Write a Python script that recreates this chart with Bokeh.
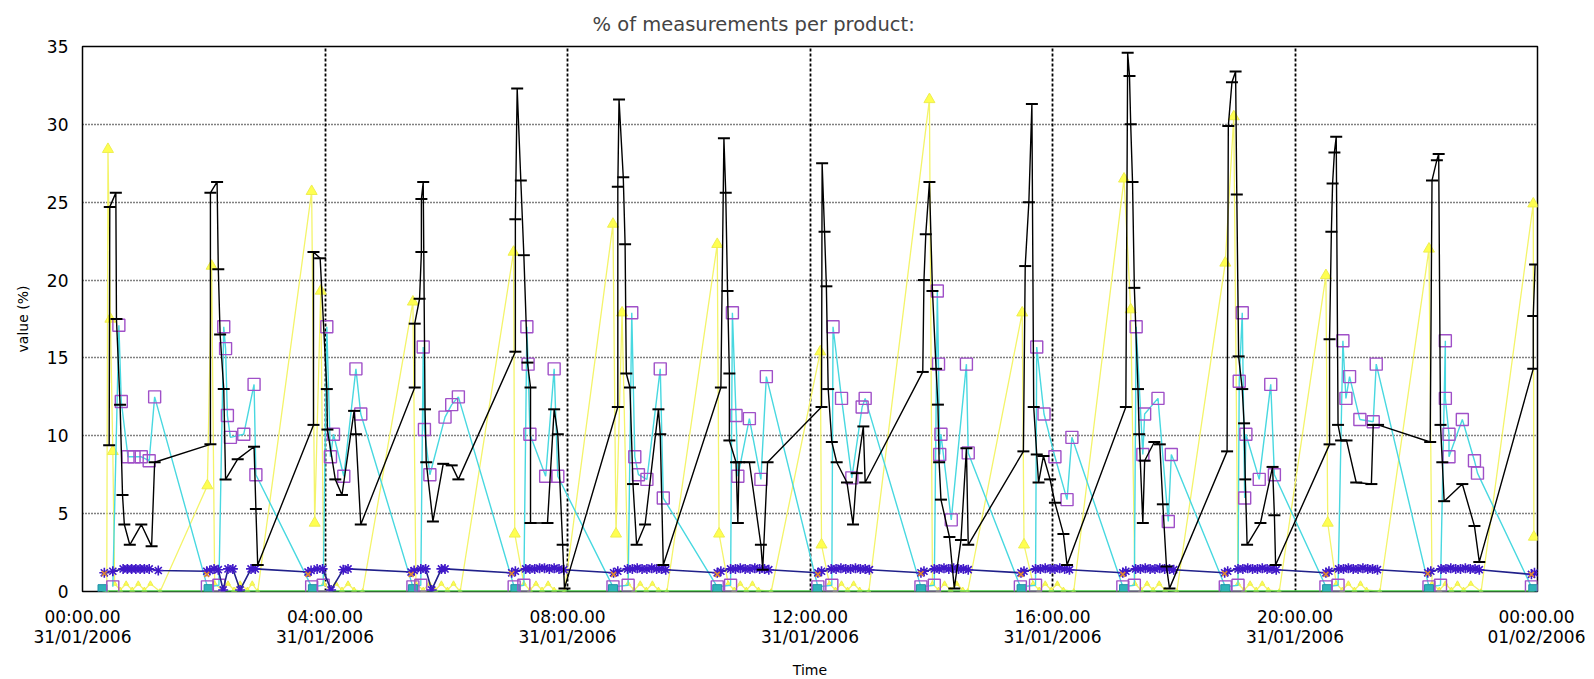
from bokeh.plotting import figure
from bokeh.models import FixedTicker, ColumnDataSource, Range1d
from bokeh.embed import file_html
from bokeh.resources import INLINE

# time axis: hours since 31/01/2006 00:00
x_tick_hours = [0, 4, 8, 12, 16, 20, 24]
x_tick_labels = ["00:00.00\n31/01/2006", "04:00.00\n31/01/2006", "08:00.00\n31/01/2006",
                 "12:00.00\n31/01/2006", "16:00.00\n31/01/2006", "20:00.00\n31/01/2006",
                 "00:00.00\n01/02/2006"]
y_ticks = [0, 5, 10, 15, 20, 25, 30, 35]

# black series (dash markers)
black_t = [0.44, 0.45, 0.55, 0.56, 0.62, 0.66, 0.69, 0.78, 0.97, 1.14, 1.19,
           2.11, 2.11, 2.22, 2.24, 2.27, 2.33, 2.36, 2.56, 2.83, 2.86, 2.89,
           3.81, 3.81, 3.92, 4.03, 4.04, 4.17, 4.28, 4.48, 4.51, 4.59,
           5.48, 5.48, 5.56, 5.59, 5.59, 5.62, 5.65, 5.67, 5.78, 5.95, 6.09, 6.20,
           7.14, 7.14, 7.17, 7.23, 7.28, 7.34, 7.39, 7.39, 7.67, 7.78, 7.84, 7.92, 7.95,
           8.83, 8.83, 8.85, 8.92, 8.95, 8.97, 9.03, 9.08, 9.14, 9.28, 9.50, 9.53, 9.58,
           10.53, 10.58, 10.61, 10.64, 10.67, 10.67, 10.78, 10.81, 10.83, 11.00, 11.19, 11.22, 11.30,
           12.19, 12.20, 12.24, 12.27, 12.30, 12.36, 12.44, 12.61, 12.71, 12.77, 12.88, 12.91,
           13.86, 13.88, 13.91, 13.97, 14.02, 14.08, 14.11, 14.13, 14.16, 14.30, 14.38, 14.49, 14.58, 14.61,
           15.52, 15.55, 15.61, 15.66, 15.69, 15.74, 15.77, 15.85, 15.96, 16.04, 16.18, 16.24,
           17.21, 17.24, 17.27, 17.29, 17.32, 17.35, 17.41, 17.43, 17.49, 17.52, 17.68, 17.77, 17.82, 17.88, 17.93,
           18.88, 18.90, 18.96, 19.02, 19.04, 19.07, 19.13, 19.16, 19.18, 19.21, 19.43, 19.63, 19.66, 19.68,
           20.57, 20.57, 20.60, 20.62, 20.65, 20.68, 20.71, 20.76, 20.85, 21.01, 21.26, 21.29, 21.37,
           22.23, 22.26, 22.34, 22.37, 22.40, 22.43, 22.46, 22.76, 22.96, 23.04,
           23.93, 23.93, 23.96]
black_v = [9.4, 24.7, 25.6, 17.5, 12.0, 6.2, 4.3, 3.0, 4.3, 2.9, 8.3,
           9.45, 25.6, 26.3, 20.7, 16.5, 13.0, 7.2, 8.5, 9.3, 5.3, 1.7,
           10.7, 21.8, 21.4, 13.0, 10.4, 7.2, 6.2, 11.6, 10.1, 4.3,
           13.1, 17.2, 18.8, 21.8, 25.2, 26.3, 11.7, 8.3, 4.5, 8.2, 8.1, 7.2,
           15.4, 23.9, 32.3, 26.4, 21.6, 14.7, 13.1, 4.4, 4.4, 11.7, 10.1, 3.0, 0.2,
           11.85, 26.0, 31.6, 26.6, 22.3, 14.0, 13.1, 6.9, 3.0, 4.3, 11.7, 10.1, 1.7,
           13.1, 29.1, 25.6, 19.3, 14.0, 9.7, 8.3, 4.4, 8.3, 8.3, 3.0, 1.4, 8.3,
           11.85, 27.5, 23.1, 19.6, 13.0, 9.6, 8.3, 7.0, 4.3, 7.6, 10.6, 7.0,
           14.1, 20.0, 22.95, 26.3, 19.3, 14.3, 12.0, 8.3, 5.9, 3.5, 0.2, 3.3, 9.2, 3.0,
           9.0, 20.9, 25.0, 31.3, 11.85, 8.8, 7.0, 8.7, 7.2, 5.7, 3.7, 1.7,
           11.85, 34.6, 33.1, 30.0, 26.3, 19.5, 13.0, 10.1, 4.4, 8.4, 9.6, 9.45, 5.6, 1.6, 0.2,
           9.0, 29.9, 32.7, 33.4, 25.5, 15.1, 13.0, 10.8, 7.2, 3.0, 4.4, 8.0, 4.9, 1.7,
           9.45, 16.2, 23.1, 26.2, 28.2, 29.2, 10.7, 9.7, 9.7, 7.0, 6.9, 10.7, 10.7,
           9.6, 26.4, 27.7, 28.1, 10.7, 8.3, 5.8, 6.9, 4.2, 1.9,
           14.3, 17.7, 21.0]

# cyan series (square markers)
cyan_t = [0.50, 0.60, 0.64, 0.75, 0.85, 0.97, 1.10, 1.19,
          2.06, 2.25, 2.33, 2.36, 2.39, 2.44, 2.66, 2.83, 2.86,
          3.78, 3.97, 4.03, 4.09, 4.14, 4.31, 4.51, 4.59,
          5.45, 5.58, 5.62, 5.64, 5.73, 5.98, 6.09, 6.20,
          7.12, 7.28, 7.33, 7.35, 7.38, 7.64, 7.78, 7.84,
          8.75, 9.00, 9.06, 9.11, 9.17, 9.31, 9.53, 9.58,
          10.47, 10.69, 10.72, 10.78, 10.81, 11.00, 11.19, 11.28,
          12.13, 12.36, 12.38, 12.52, 12.69, 12.86, 12.91,
          13.83, 14.05, 14.10, 14.12, 14.14, 14.16, 14.33, 14.58, 14.61,
          15.47, 15.72, 15.74, 15.86, 16.04, 16.24, 16.32,
          17.16, 17.35, 17.38, 17.49, 17.52, 17.74, 17.91, 17.96,
          18.85, 19.06, 19.08, 19.13, 19.17, 19.19, 19.41, 19.60, 19.66,
          20.51, 20.71, 20.79, 20.84, 20.90, 21.07, 21.29, 21.34,
          22.21, 22.40, 22.48, 22.48, 22.54, 22.54, 22.76, 22.96, 23.01,
          23.90]
cyan_v = [0.3, 17.1, 12.2, 8.65, 8.65, 8.65, 8.4, 12.5,
          0.3, 0.4, 17.0, 15.6, 11.3, 9.9, 10.1, 13.3, 7.5,
          0.3, 0.4, 17.0, 8.65, 10.1, 7.4, 14.3, 11.4,
          0.3, 0.4, 15.7, 10.4, 7.5, 11.2, 12.0, 12.5,
          0.3, 0.4, 17.0, 14.6, 10.1, 7.4, 14.3, 7.4,
          0.3, 0.4, 17.9, 8.65, 7.5, 7.2, 14.3, 6.0,
          0.3, 0.4, 17.9, 11.3, 7.4, 11.1, 7.2, 13.8,
          0.3, 0.4, 17.0, 12.4, 7.3, 11.85, 12.4,
          0.3, 0.4, 19.3, 14.6, 8.8, 10.1, 4.6, 14.6, 8.9,
          0.3, 0.4, 15.7, 11.4, 8.65, 5.9, 9.9,
          0.3, 0.4, 17.0, 8.8, 11.4, 12.4, 4.5, 8.8,
          0.3, 0.4, 13.5, 17.9, 6.0, 10.1, 7.2, 13.3, 7.5,
          0.3, 0.4, 16.1, 12.4, 13.8, 11.05, 10.9, 14.6,
          0.3, 0.4, 16.1, 12.4, 10.1, 8.65, 11.05, 8.4, 7.6,
          0.3]

# yellow series (triangle markers)
yellow_t = [0.40, 0.42, 0.46, 0.50, 0.53, 0.62, 0.72, 0.82, 0.92, 1.02, 1.12, 1.28,
            2.06, 2.13, 2.18, 2.30, 2.40, 2.50, 2.60, 2.72, 2.80, 2.89,
            3.78, 3.83, 3.93, 3.98, 4.08, 4.18, 4.28, 4.38, 4.48, 4.62,
            5.45, 5.50, 5.62, 5.72, 5.82, 5.92, 6.02, 6.12, 6.23,
            7.11, 7.13, 7.28, 7.38, 7.48, 7.58, 7.68, 7.78, 7.95,
            8.75, 8.80, 8.90, 9.00, 9.10, 9.20, 9.30, 9.40, 9.50, 9.64,
            10.47, 10.50, 10.65, 10.75, 10.85, 10.95, 11.05, 11.15, 11.36,
            12.17, 12.19, 12.32, 12.42, 12.52, 12.62, 12.72, 12.82, 12.97,
            13.97, 14.02, 14.12, 14.22, 14.32, 14.42, 14.52, 14.60,
            15.50, 15.53, 15.68, 15.78, 15.88, 15.98, 16.08, 16.18, 16.35,
            17.18, 17.29, 17.36, 17.46, 17.56, 17.66, 17.76, 17.86, 18.05,
            18.85, 18.99, 19.06, 19.16, 19.26, 19.36, 19.46, 19.56, 19.74,
            20.51, 20.54, 20.68, 20.78, 20.88, 20.98, 21.08, 21.18, 21.40,
            22.21, 22.26, 22.38, 22.48, 22.58, 22.68, 22.78, 22.90, 23.07,
            23.93, 23.94]
yellow_v = [0.0, 28.4, 17.5, 9.0, 0.5, 0.1, 0.5, 0.1, 0.5, 0.1, 0.5, 0.0,
            6.8, 20.9, 0.5, 0.1, 0.5, 0.1, 0.5, 0.1, 0.5, 0.0,
            25.7, 4.4, 19.3, 0.5, 0.1, 0.5, 0.1, 0.5, 0.1, 0.0,
            18.6, 0.5, 0.1, 0.5, 0.1, 0.5, 0.1, 0.5, 0.0,
            21.8, 3.7, 0.5, 0.1, 0.5, 0.1, 0.5, 0.1, 0.0,
            23.6, 3.7, 17.9, 0.5, 0.1, 0.5, 0.1, 0.5, 0.1, 0.0,
            22.3, 3.7, 0.5, 0.1, 0.5, 0.1, 0.5, 0.1, 0.0,
            15.4, 3.0, 0.5, 0.1, 0.5, 0.1, 0.5, 0.1, 0.0,
            31.6, 0.5, 0.1, 0.5, 0.1, 0.5, 0.1, 0.0,
            17.9, 3.0, 0.5, 0.1, 0.5, 0.1, 0.5, 0.1, 0.0,
            26.5, 18.1, 0.5, 0.1, 0.5, 0.1, 0.5, 0.1, 0.0,
            21.1, 30.5, 0.5, 0.1, 0.5, 0.1, 0.5, 0.1, 0.0,
            20.3, 4.4, 0.5, 0.1, 0.5, 0.1, 0.5, 0.1, 0.0,
            22.0, 0.5, 0.1, 0.5, 0.1, 0.5, 0.1, 0.5, 0.0,
            24.9, 3.5]

# navy series (asterisk markers)
navy_t = [0.36, 0.50, 0.67, 0.74, 0.81, 0.88, 0.95, 1.02, 1.10, 1.25,
          2.05, 2.10, 2.17, 2.24, 2.32, 2.40, 2.48, 2.60, 2.78, 2.85,
          3.72, 3.77, 3.87, 3.96, 4.10, 4.30, 4.38,
          5.42, 5.47, 5.58, 5.66, 5.76, 5.92, 5.98,
          7.08, 7.14, 7.31, 7.38, 7.46, 7.54, 7.62, 7.70, 7.78, 7.86, 7.94,
          8.76, 8.83, 8.99, 9.07, 9.15, 9.23, 9.31, 9.39, 9.47, 9.55, 9.62,
          10.47, 10.53, 10.69, 10.77, 10.85, 10.93, 11.01, 11.09, 11.17, 11.25, 11.32,
          12.13, 12.19, 12.35, 12.43, 12.51, 12.59, 12.67, 12.75, 12.83, 12.91, 12.98,
          13.83, 13.88, 14.05, 14.13, 14.21, 14.29, 14.37, 14.45, 14.53, 14.61,
          15.48, 15.53, 15.72, 15.80, 15.88, 15.96, 16.04, 16.12, 16.20, 16.28,
          17.16, 17.21, 17.37, 17.45, 17.53, 17.61, 17.69, 17.77, 17.85, 17.93, 18.00,
          18.84, 18.89, 19.06, 19.14, 19.22, 19.30, 19.38, 19.46, 19.54, 19.62, 19.69,
          20.51, 20.56, 20.72, 20.80, 20.88, 20.96, 21.04, 21.12, 21.20, 21.28, 21.36,
          22.19, 22.24, 22.41, 22.49, 22.57, 22.65, 22.73, 22.81, 22.89, 22.97, 23.04,
          23.90, 23.95]
navy_v = [1.2, 1.3, 1.45, 1.45, 1.45, 1.45, 1.45, 1.45, 1.45, 1.35,
          1.3, 1.35, 1.45, 1.4, 0.1, 1.45, 1.45, 0.1, 1.45, 1.45,
          1.25, 1.35, 1.45, 1.45, 0.1, 1.4, 1.45,
          1.25, 1.35, 1.45, 1.45, 0.1, 1.45, 1.45,
          1.2, 1.3, 1.45, 1.45, 1.45, 1.5, 1.5, 1.45, 1.5, 1.45, 1.4,
          1.2, 1.3, 1.45, 1.45, 1.5, 1.45, 1.45, 1.5, 1.45, 1.45, 1.4,
          1.2, 1.3, 1.45, 1.45, 1.5, 1.45, 1.45, 1.5, 1.45, 1.45, 1.4,
          1.2, 1.3, 1.45, 1.45, 1.5, 1.45, 1.45, 1.5, 1.45, 1.45, 1.4,
          1.2, 1.3, 1.45, 1.45, 1.5, 1.45, 1.5, 1.45, 1.45, 1.4,
          1.2, 1.3, 1.45, 1.45, 1.5, 1.45, 1.45, 1.5, 1.45, 1.4,
          1.2, 1.3, 1.45, 1.45, 1.5, 1.45, 1.45, 1.5, 1.45, 1.45, 1.4,
          1.2, 1.3, 1.45, 1.45, 1.5, 1.45, 1.45, 1.5, 1.45, 1.45, 1.4,
          1.2, 1.3, 1.45, 1.45, 1.5, 1.45, 1.45, 1.5, 1.45, 1.45, 1.4,
          1.2, 1.3, 1.45, 1.45, 1.5, 1.45, 1.45, 1.5, 1.45, 1.45, 1.4,
          1.1, 1.2]

# green baseline series
green_t = [0.33, 23.95]
green_v = [0.0, 0.0]

# teal squares at zero (pass starts)
teal_t = [0.33, 2.08, 3.80, 5.45, 7.14, 8.75, 10.47, 12.12, 13.83, 15.49, 17.18, 18.85, 20.53, 22.21, 23.93]
teal_v = [0.15] * 15

# orange crosses
orange_t = [0.36, 2.05, 3.72, 5.42, 7.08, 8.76, 10.47, 12.13, 13.83, 15.48, 17.16, 18.84, 20.51, 22.19, 23.90]
orange_v = [1.15, 1.1, 1.1, 1.1, 1.15, 1.1, 1.1, 1.1, 1.15, 1.1, 1.1, 1.15, 1.1, 1.15, 1.1]

FONT = "DejaVu Sans"

p = figure(frame_width=1455, frame_height=545, output_backend="svg", toolbar_location=None,
           x_range=Range1d(0, 24), y_range=Range1d(0, 35),
           min_border_left=82, min_border_top=45, min_border_right=48, min_border_bottom=70,
           title="% of measurements per product:")
p.background_fill_color = "white"
p.border_fill_color = "white"
p.outline_line_color = "black"
p.outline_line_width = 1.5

p.title.text_font = FONT
p.title.text_font_size = "19.5px"
p.title.text_font_style = "normal"
p.title.align = "left"
p.title.offset = 510
p.title.standoff = 21

# axes
p.xaxis.ticker = FixedTicker(ticks=x_tick_hours)
p.xaxis.major_label_overrides = {h: lab for h, lab in zip(x_tick_hours, x_tick_labels)}
p.yaxis.ticker = FixedTicker(ticks=y_ticks)
for ax in (p.xaxis[0], p.yaxis[0]):
    ax.axis_line_color = None
    ax.major_tick_line_color = None
    ax.minor_tick_line_color = None
    ax.major_label_text_font = FONT
    ax.major_label_text_font_size = "17px"
    ax.major_label_text_line_height = 1.0
    ax.major_label_text_color = "black"
    ax.axis_label_text_font = FONT
    ax.axis_label_text_font_size = "14px"
    ax.axis_label_text_font_style = "normal"
    ax.axis_label_text_color = "black"
p.xaxis.axis_label = "Time"
p.yaxis.axis_label = "value (%)"
p.xaxis.major_label_standoff = 9
p.xaxis.axis_label_standoff = 12
p.yaxis.major_label_standoff = 8
p.yaxis.axis_label_standoff = 13

# grid
p.xgrid.grid_line_color = "black"
p.xgrid.grid_line_dash = "3 2"
p.xgrid.grid_line_width = 1.8
p.ygrid.grid_line_color = "black"
p.ygrid.grid_line_dash = "1 2"
p.ygrid.grid_line_width = 1.5

# series
ysrc = ColumnDataSource(dict(t=yellow_t, v=yellow_v,
                             s=[11 if v > 1 else 5 for v in yellow_v]))
p.line("t", "v", source=ysrc, line_color="#f4f46a", line_width=1.3)
p.scatter("t", "v", source=ysrc, marker="triangle", size="s",
          fill_color="#ffff50", line_color="#eeee50", line_width=1)

p.line(cyan_t, cyan_v, line_color="#48d8e0", line_width=1.4)

p.line(green_t, green_v, line_color="#5ae05a", line_width=2.5)
p.scatter(teal_t, teal_v, marker="square", size=9, fill_color="#30b4b8", line_color="#2090a8")

p.scatter(cyan_t, cyan_v, marker="square", size=12, fill_color=None,
          line_color="#a050c8", line_width=1.4)

p.line(navy_t, navy_v, line_color="#20208a", line_width=1.6)
p.scatter(navy_t, navy_v, marker="asterisk", size=10, line_color="#4018c8", line_width=1.6)
p.scatter(orange_t, orange_v, marker="x", size=7, line_color="#e08a30", line_width=1.5)

p.line(black_t, black_v, line_color="black", line_width=1.4)
p.scatter(black_t, black_v, marker="dash", size=12, line_color="black", line_width=2)

open("out.html", "w").write(file_html(p, INLINE))
